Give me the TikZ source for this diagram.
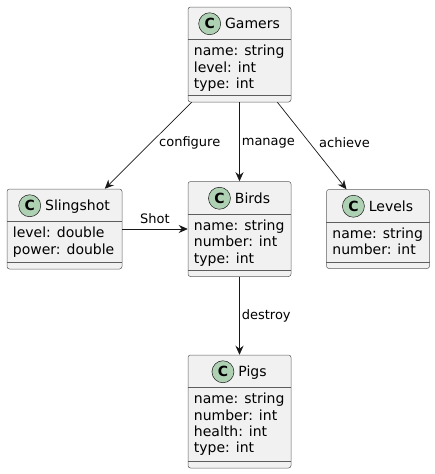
\documentclass[tikz,border=0pt]{standalone}
\usepackage{fontspec}
\setmainfont{DejaVu Sans}
\usetikzlibrary{arrows.meta,positioning}

\definecolor{boxfill}{HTML}{F1F1F1}
\definecolor{boxline}{HTML}{181818}
\definecolor{markfill}{HTML}{ADD1B2}

\tikzset{
    classbox/.style={draw=boxline!70,fill=boxfill,line width=0.5pt,rounded corners=2.5pt,inner sep=0pt},
    classline/.style={draw=boxline!70,line width=0.5pt},
    classtitle/.style={inner sep=0pt,text height=10pt,text depth=0pt,font=\fontsize{14}{16.3}\selectfont},
    classmark/.style={circle,draw=boxline,fill=markfill,line width=0.5pt,minimum size=22pt,inner sep=0pt,font=\fontsize{14}{14}\selectfont\bfseries},
    classattr/.style={inner sep=0pt,align=left,anchor=north west,font=\fontsize{14}{16.3}\selectfont},
    relation/.style={draw=boxline,line width=0.7pt,-{Stealth[length=9pt,width=8pt,inset=3pt]}},
    rellabel/.style={inner sep=0pt,font=\fontsize{13}{15}\selectfont}
}

% id, centre, width, height, name, attributes
\newcommand{\umlclass}[6]{%
    \node[classbox,minimum width=#3,minimum height=#4] (#1) at #2 {};
    \draw[classline] ([yshift=-32.5pt]#1.north west) -- ([yshift=-32.5pt]#1.north east);
    \draw[classline] ([yshift=7pt]#1.south west) -- ([yshift=7pt]#1.south east);
    \node[classtitle] (#1-title) at ([xshift=13pt,yshift=-17pt]#1.north) {#5};
    \node[classmark,left=4pt of #1-title] (#1-mark) {C};
    \node[classattr] (#1-attr) at ([xshift=6pt,yshift=-38pt]#1.north west) {\rule{0pt}{11pt}#6};
}

\begin{document}
\begin{tikzpicture}[x=1pt,y=-1pt]
    \useasboundingbox (0,0) rectangle (435,474);

    % classes
    \umlclass{gamers}{(239.5,54.5)}{103pt}{95pt}{Gamers}{name: string\\level: int\\type: int}
    \umlclass{slingshot}{(64.5,229)}{115pt}{80pt}{Slingshot}{level: double\\power: double}
    \umlclass{birds}{(239.5,229)}{103pt}{95pt}{Birds}{name: string\\number: int\\type: int}
    \umlclass{levels}{(378,229)}{103pt}{79pt}{Levels}{name: string\\number: int}
    \umlclass{pigs}{(239.5,411.5)}{103pt}{113pt}{Pigs}{name: string\\number: int\\health: int\\type: int}

    % relations
    \draw[relation] (gamers) -- node[rellabel,pos=0.47,right=8pt] {configure} (slingshot);
    \draw[relation] (gamers) -- node[rellabel,pos=0.52,right=2pt] {manage} (birds);
    \draw[relation] (gamers) -- node[rellabel,pos=0.47,right=9pt] {achieve} (levels);
    \draw[relation] (slingshot) -- node[rellabel,above=5pt] {Shot} (birds);
    \draw[relation] (birds) -- node[rellabel,right=2pt] {destroy} (pigs);
\end{tikzpicture}
\end{document}
